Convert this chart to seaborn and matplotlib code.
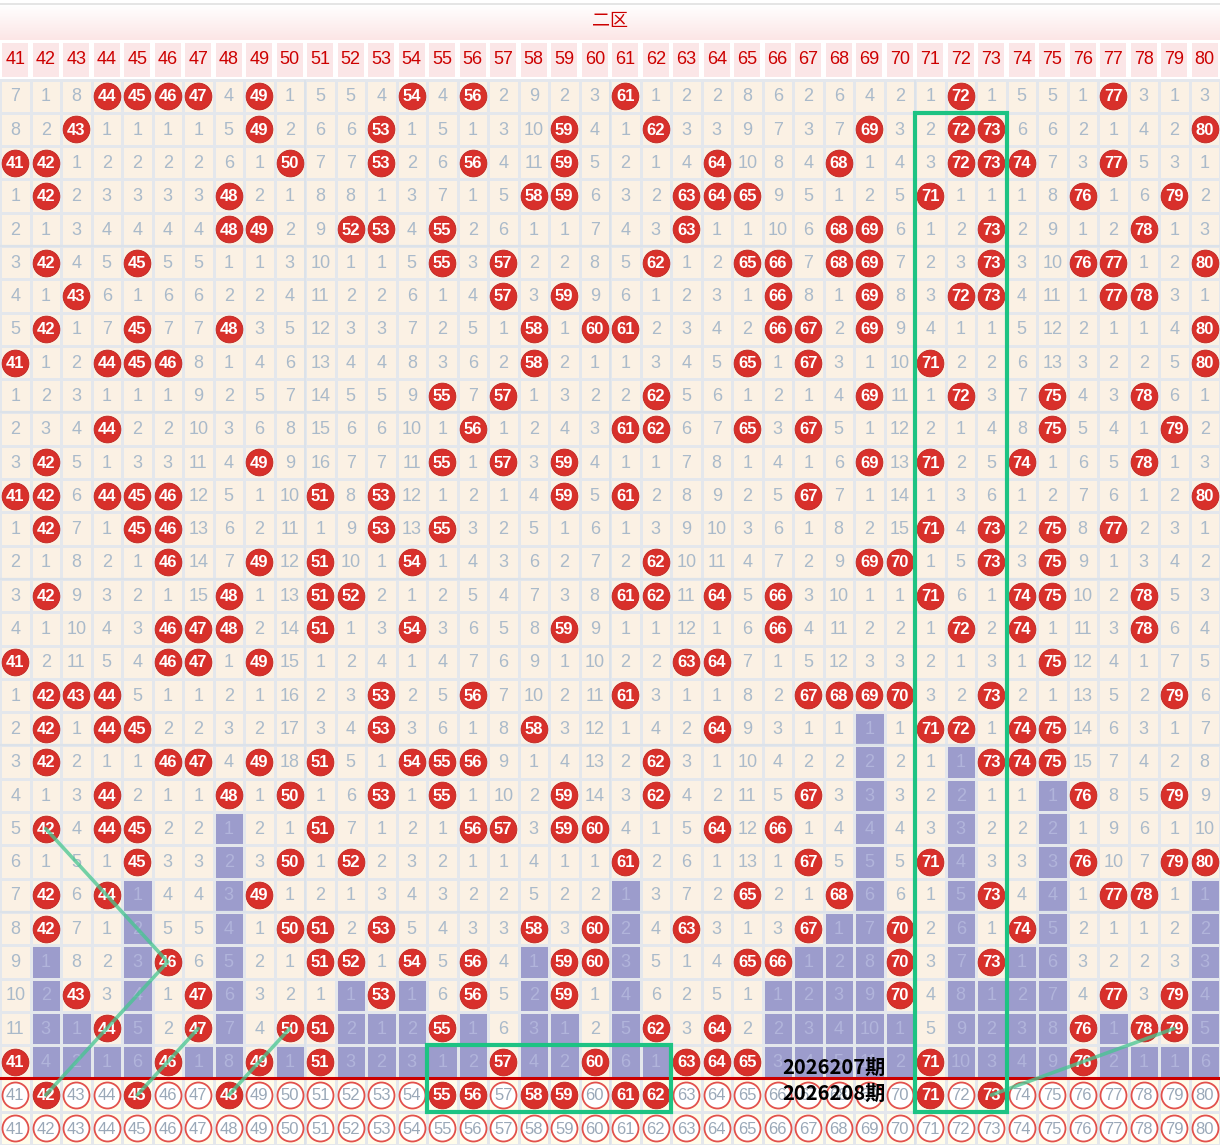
import numpy as np
import pandas as pd
import matplotlib
matplotlib.use('Agg')
import matplotlib.pyplot as plt
import seaborn as sns
from matplotlib.colors import ListedColormap, LinearSegmentedColormap
from matplotlib.patches import Rectangle

plt.rcParams['font.family'] = ['Liberation Sans', 'Noto Sans CJK SC', 'DejaVu Sans']

# Data: numbers 41-80, one row per draw. A value equal to its column number is a hit,
# anything else is the omission count shown in the cell.

numbers = list(range(41, 81))

rows_text = [
    "7 1 8 44 45 46 47 4 49 1 5 5 4 54 4 56 2 9 2 3 61 1 2 2 8 6 2 6 4 2 1 72 1 5 5 1 77 3 1 3",
    "8 2 43 1 1 1 1 5 49 2 6 6 53 1 5 1 3 10 59 4 1 62 3 3 9 7 3 7 69 3 2 72 73 6 6 2 1 4 2 80",
    "41 42 1 2 2 2 2 6 1 50 7 7 53 2 6 56 4 11 59 5 2 1 4 64 10 8 4 68 1 4 3 72 73 74 7 3 77 5 3 1",
    "1 42 2 3 3 3 3 48 2 1 8 8 1 3 7 1 5 58 59 6 3 2 63 64 65 9 5 1 2 5 71 1 1 1 8 76 1 6 79 2",
    "2 1 3 4 4 4 4 48 49 2 9 52 53 4 55 2 6 1 1 7 4 3 63 1 1 10 6 68 69 6 1 2 73 2 9 1 2 78 1 3",
    "3 42 4 5 45 5 5 1 1 3 10 1 1 5 55 3 57 2 2 8 5 62 1 2 65 66 7 68 69 7 2 3 73 3 10 76 77 1 2 80",
    "4 1 43 6 1 6 6 2 2 4 11 2 2 6 1 4 57 3 59 9 6 1 2 3 1 66 8 1 69 8 3 72 73 4 11 1 77 78 3 1",
    "5 42 1 7 45 7 7 48 3 5 12 3 3 7 2 5 1 58 1 60 61 2 3 4 2 66 67 2 69 9 4 1 1 5 12 2 1 1 4 80",
    "41 1 2 44 45 46 8 1 4 6 13 4 4 8 3 6 2 58 2 1 1 3 4 5 65 1 67 3 1 10 71 2 2 6 13 3 2 2 5 80",
    "1 2 3 1 1 1 9 2 5 7 14 5 5 9 55 7 57 1 3 2 2 62 5 6 1 2 1 4 69 11 1 72 3 7 75 4 3 78 6 1",
    "2 3 4 44 2 2 10 3 6 8 15 6 6 10 1 56 1 2 4 3 61 62 6 7 65 3 67 5 1 12 2 1 4 8 75 5 4 1 79 2",
    "3 42 5 1 3 3 11 4 49 9 16 7 7 11 55 1 57 3 59 4 1 1 7 8 1 4 1 6 69 13 71 2 5 74 1 6 5 78 1 3",
    "41 42 6 44 45 46 12 5 1 10 51 8 53 12 1 2 1 4 59 5 61 2 8 9 2 5 67 7 1 14 1 3 6 1 2 7 6 1 2 80",
    "1 42 7 1 45 46 13 6 2 11 1 9 53 13 55 3 2 5 1 6 1 3 9 10 3 6 1 8 2 15 71 4 73 2 75 8 77 2 3 1",
    "2 1 8 2 1 46 14 7 49 12 51 10 1 54 1 4 3 6 2 7 2 62 10 11 4 7 2 9 69 70 1 5 73 3 75 9 1 3 4 2",
    "3 42 9 3 2 1 15 48 1 13 51 52 2 1 2 5 4 7 3 8 61 62 11 64 5 66 3 10 1 1 71 6 1 74 75 10 2 78 5 3",
    "4 1 10 4 3 46 47 48 2 14 51 1 3 54 3 6 5 8 59 9 1 1 12 1 6 66 4 11 2 2 1 72 2 74 1 11 3 78 6 4",
    "41 2 11 5 4 46 47 1 49 15 1 2 4 1 4 7 6 9 1 10 2 2 63 64 7 1 5 12 3 3 2 1 3 1 75 12 4 1 7 5",
    "1 42 43 44 5 1 1 2 1 16 2 3 53 2 5 56 7 10 2 11 61 3 1 1 8 2 67 68 69 70 3 2 73 2 1 13 5 2 79 6",
    "2 42 1 44 45 2 2 3 2 17 3 4 53 3 6 1 8 58 3 12 1 4 2 64 9 3 1 1 1 1 71 72 1 74 75 14 6 3 1 7",
    "3 42 2 1 1 46 47 4 49 18 51 5 1 54 55 56 9 1 4 13 2 62 3 1 10 4 2 2 2 2 1 1 73 74 75 15 7 4 2 8",
    "4 1 3 44 2 1 1 48 1 50 1 6 53 1 55 1 10 2 59 14 3 62 4 2 11 5 67 3 3 3 2 2 1 1 1 76 8 5 79 9",
    "5 42 4 44 45 2 2 1 2 1 51 7 1 2 1 56 57 3 59 60 4 1 5 64 12 66 1 4 4 4 3 3 2 2 2 1 9 6 1 10",
    "6 1 5 1 45 3 3 2 3 50 1 52 2 3 2 1 1 4 1 1 61 2 6 1 13 1 67 5 5 5 71 4 3 3 3 76 10 7 79 80",
    "7 42 6 44 1 4 4 3 49 1 2 1 3 4 3 2 2 5 2 2 1 3 7 2 65 2 1 68 6 6 1 5 73 4 4 1 77 78 1 1",
    "8 42 7 1 2 5 5 4 1 50 51 2 53 5 4 3 3 58 3 60 2 4 63 3 1 3 67 1 7 70 2 6 1 74 5 2 1 1 2 2",
    "9 1 8 2 3 46 6 5 2 1 51 52 1 54 5 56 4 1 59 60 3 5 1 4 65 66 1 2 8 70 3 7 73 1 6 3 2 2 3 3",
    "10 2 43 3 4 1 47 6 3 2 1 1 53 1 6 56 5 2 59 1 4 6 2 5 1 1 2 3 9 70 4 8 1 2 7 4 77 3 79 4",
    "11 3 1 44 5 2 47 7 4 50 51 2 1 2 55 1 6 3 1 2 5 62 3 64 2 2 3 4 10 1 5 9 2 3 8 76 1 78 79 5",
    "41 4 2 1 6 46 1 8 49 1 51 3 2 3 1 2 57 4 2 60 6 1 63 64 65 3 4 5 11 2 71 10 3 4 9 76 2 1 1 6",
]

periods = ['2026207期', '2026208期']
picked = [42, 45, 48, 55, 56, 58, 59, 61, 62, 71, 73]

# trend lines as (number, row) pairs, rows counted from 1 at the top
trend_lines = [
    [(42, 23), (46, 27), (42, 31)],
    [(45, 31), (47, 29)],
    [(48, 31), (50, 29)],
    [(73, 31), (79, 29)],
]
# boxes: first number, last number, first row, last row
boxes = [(71, 73, 2, 31), (55, 62, 30, 31)]

grid = np.array([[int(v) for v in r.split()] for r in rows_text])
n_rows, n_cols = grid.shape
hits = grid == np.array(numbers)[None, :]

# blue cells: every row after the last hit of that number
blue = np.zeros_like(hits)
for c in range(n_cols):
    idx = np.where(hits[:, c])[0]
    last = idx.max() if len(idx) else -1
    blue[last + 1:, c] = True

state = np.vstack([blue.astype(int), np.full((2, n_cols), 2)])
df = pd.DataFrame(state, columns=numbers)

# Figure

px_row = 1065.5 / 32
top = -79.5 / px_row

def u(px):
    return (px - 79.5) / px_row

fig = plt.figure(figsize=(12.2, 11.45), dpi=100)
ax = fig.add_axes([0, 0, 1, 1])
sns.heatmap(df, cmap=ListedColormap(['#FBF1E4', '#9C9CCC', '#FFFCEA']), vmin=-0.5, vmax=2.5,
            cbar=False, linewidths=0.8, linecolor='#E4E7EC', ax=ax,
            xticklabels=False, yticklabels=False)
ax.set_xlim(0, 40)
ax.set_ylim(32, top)
ax.axis('off')

# title band with gradient
grad = np.linspace(0, 1, 50)[:, None]
band = LinearSegmentedColormap.from_list('band', ['#FFFFFF', '#FCE6E6'])
ax.imshow(grad, extent=(0, 40, u(40), u(4)), aspect='auto', cmap=band, zorder=0)
ax.set_xlim(0, 40)
ax.set_ylim(32, top)
ax.hlines(u(3.5), 0, 40, color='#E0E0E0', lw=1.2)
ax.text(20, u(21), '二区', color='#CC0000', fontsize=13, ha='center', va='center',
        family=['Noto Sans CJK SC'])

# header row
for i, n in enumerate(numbers):
    ax.add_patch(Rectangle((i + 0.08, u(42.5)), 0.84, u(77) - u(42.5),
                           facecolor='#FBE6E7', edgecolor='none', zorder=1))
    ax.text(i + 0.5, u(60), str(n), color='#CC0000', fontsize=13, ha='center', va='center')

# separators
for r in [5, 10, 15, 20, 25]:
    ax.hlines(r, 0, 40, color='#DCE2E9', lw=1.6, zorder=1.5)
for c in [10, 20, 30]:
    ax.vlines(c, 0, 32, color='#DCE2E9', lw=1.4, zorder=1.5)
ax.plot([0, 40], [30, 30], color='#CC0000', lw=2.2, zorder=3.5)

# cells
ball_x, ball_y = [], []
for r in range(n_rows):
    for c in range(n_cols):
        v = grid[r, c]
        if hits[r, c]:
            ball_x.append(c + 0.5)
            ball_y.append(r + 0.5)
            ax.text(c + 0.5, r + 0.52, str(v), color='white', fontsize=12, fontweight='bold',
                    ha='center', va='center', zorder=4)
        else:
            col = '#B1B4DB' if blue[r, c] else '#AABACA'
            ax.text(c + 0.5, r + 0.52, str(v), color=col, fontsize=13,
                    ha='center', va='center', zorder=4)

# bottom selection rows
out_x, out_y = [], []
for k in range(2):
    rr = n_rows + k
    for c, n in enumerate(numbers):
        if k == 0 and n in picked:
            ball_x.append(c + 0.5)
            ball_y.append(rr + 0.5)
            ax.text(c + 0.5, rr + 0.52, str(n), color='white', fontsize=12, fontweight='bold',
                    ha='center', va='center', zorder=4)
        else:
            out_x.append(c + 0.5)
            out_y.append(rr + 0.5)
            ax.text(c + 0.5, rr + 0.52, str(n), color='#9AA8B8', fontsize=12,
                    ha='center', va='center', zorder=4)

ax.scatter(ball_x, ball_y, s=370, color='#D8302B', edgecolors='#BE2420', linewidths=0.6, zorder=3)
ax.scatter(out_x, out_y, s=350, color='white', edgecolors='#E2514C', linewidths=1.3, zorder=3)

# trend lines
for line in trend_lines:
    xs = [n - 41 + 0.5 for n, r in line]
    ys = [r - 0.5 for n, r in line]
    ax.plot(xs, ys, color='#45C690', alpha=0.75, lw=2.6, zorder=5, solid_capstyle='round')

# boxes
for a, b, r0, r1 in boxes:
    ax.add_patch(Rectangle((a - 41, r0 - 1), b - a + 1, r1 - r0 + 1, fill=False,
                           edgecolor='#1DC383', lw=3, zorder=6))

# period labels
for k, p in enumerate(periods):
    ax.text(25.64, n_rows - 0.32 + k * 0.76, p, fontsize=14.5, fontweight='bold', color='black',
            ha='left', va='center', family=['Noto Sans CJK SC'], zorder=7)

fig.savefig('out.png', dpi=100)
plt.close()
